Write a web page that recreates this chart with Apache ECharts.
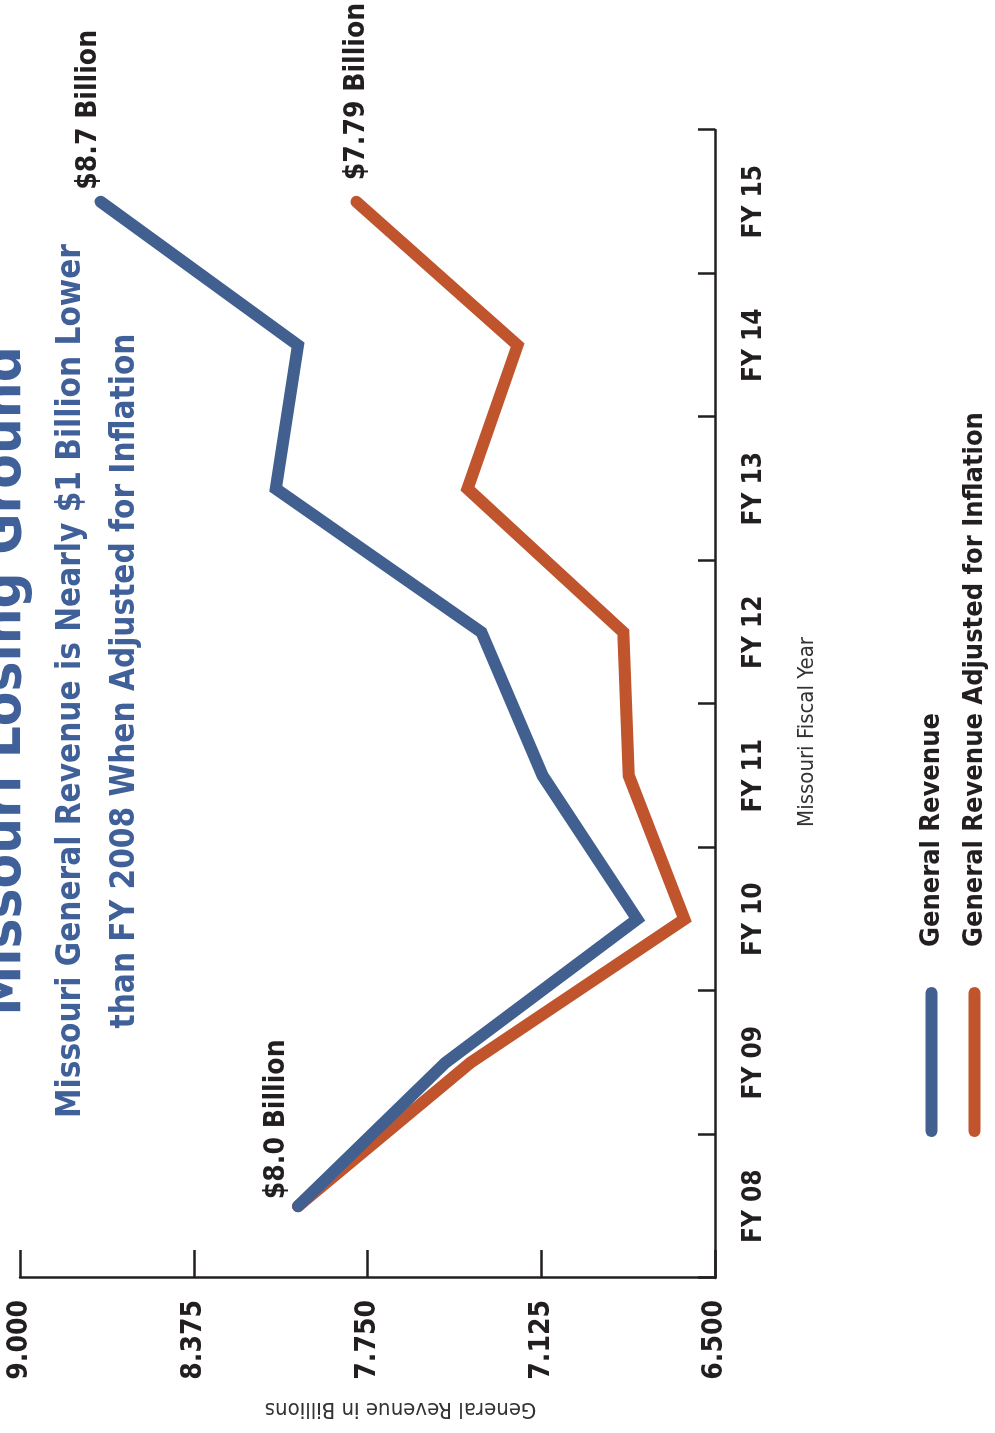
<!DOCTYPE html>
<html>
<head>
<meta charset="utf-8">
<script src="https://cdn.jsdelivr.net/npm/echarts@6/dist/echarts.min.js"></script>
<style>
  html, body { margin: 0; padding: 0; background: #ffffff; width: 995px; height: 1433px; overflow: hidden; }
  #chart { position: absolute; left: 0; top: 0; width: 1433px; height: 995px;
           transform-origin: 0 0; transform: translate(0px, 1433px) rotate(-90deg); }
</style>
</head>
<body>
<div id="chart"></div>
<script>
// ---- data ----
const categories = ['FY 08', 'FY 09', 'FY 10', 'FY 11', 'FY 12', 'FY 13', 'FY 14', 'FY 15'];
const generalRevenue = [8.00, 7.47, 6.78, 7.12, 7.34, 8.08, 8.00, 8.71];
const adjustedRevenue = [8.00, 7.38, 6.61, 6.81, 6.83, 7.39, 7.21, 7.79];
const valueTicks = [6.5, 7.125, 7.75, 8.375, 9.0];
const seriesNames = ['General Revenue', 'General Revenue Adjusted for Inflation'];
const titleText = 'Missouri Losing Ground';
const subtitleLines = ['Missouri General Revenue is Nearly $1 Billion Lower', 'than FY 2008 When Adjusted for Inflation'];
const yAxisName = 'General Revenue in Billions';
const xAxisName = 'Missouri Fiscal Year';
const generalStartLabel = '$8.0 Billion';
const generalEndLabel = '$8.7 Billion';
const adjustedEndLabel = '$7.79 Billion';

// ---- styling ----
const FONT = '"Liberation Sans Narrow", "DejaVu Sans Condensed", "Arial Narrow", sans-serif';
const BLUE = '#41608f';
const ORANGE = '#c0542c';
const TITLE_BLUE = '#3f6098';
const INK = '#231f20';

const labelStyle = { fontFamily: FONT, fontWeight: 'bold', fontSize: 28, color: INK };

const lastIdx = categories.length - 1;
const generalData = generalRevenue.map((v, i) => {
  if (i === 0) return { value: v, label: Object.assign({ show: true, formatter: generalStartLabel, position: 'top', align: 'left', distance: 0, offset: [7, -7] }, labelStyle) };
  if (i === lastIdx) return { value: v, label: Object.assign({ show: true, formatter: generalEndLabel, position: 'top', align: 'left', distance: 0, offset: [12, 3] }, labelStyle) };
  return v;
});
const adjustedData = adjustedRevenue.map((v, i) => {
  if (i === lastIdx) return { value: v, label: Object.assign({ show: true, formatter: adjustedEndLabel, position: 'right', distance: 21 }, labelStyle) };
  return v;
});

const capsule = 'path://M6,0 L144,0 A6,6 0 0 1 144,12 L6,12 A6,6 0 0 1 6,0 Z';

const chart = echarts.init(document.getElementById('chart'), null, { renderer: 'canvas' });
chart.setOption({
  backgroundColor: '#ffffff',
  animation: false,
  title: [
    {
      text: titleText, left: 752, textAlign: 'center', top: -23, padding: 0,
      textStyle: { fontFamily: FONT, fontWeight: 'bold', fontSize: 56, color: TITLE_BLUE }
    },
    {
      text: subtitleLines.join('\n'), left: 752, textAlign: 'center', top: 44, padding: 0,
      textStyle: { fontFamily: FONT, fontWeight: 'bold', fontSize: 33, lineHeight: 54, color: TITLE_BLUE }
    }
  ],
  legend: {
    orient: 'vertical', left: 296, top: 918, padding: 0, itemWidth: 150, itemHeight: 12, itemGap: 16,
    icon: capsule,
    data: seriesNames,
    textStyle: { fontFamily: FONT, fontWeight: 'bold', fontSize: 27, color: INK, padding: [0, 0, 0, 35] }
  },
  grid: { left: 155, right: 130, top: 20, bottom: 280, containLabel: false },
  xAxis: {
    type: 'category', data: categories, boundaryGap: true,
    name: xAxisName, nameLocation: 'middle', nameGap: 81,
    nameTextStyle: { fontFamily: FONT, fontSize: 22, color: '#333333', padding: [0, 56, 0, 0] },
    axisLine: { show: true, lineStyle: { color: INK, width: 2.5 } },
    axisTick: { show: true, inside: true, length: 17, lineStyle: { color: INK, width: 2.5 } },
    axisLabel: { interval: 0, margin: 26, fontFamily: FONT, fontWeight: 'bold', fontSize: 26, color: INK },
    splitLine: { show: false }
  },
  yAxis: {
    type: 'value', min: 6.5, max: 9,
    name: yAxisName, nameLocation: 'middle', nameGap: 120,
    nameTextStyle: { fontFamily: FONT, fontSize: 22, color: '#333333', padding: [0, 66, 0, 0] },
    axisLine: { show: true, lineStyle: { color: INK, width: 2.5 } },
    axisTick: { show: true, inside: true, length: 28, customValues: valueTicks, lineStyle: { color: INK, width: 2.5 } },
    axisLabel: { customValues: valueTicks, margin: 22, fontFamily: FONT, fontWeight: 'bold', fontSize: 28, color: INK,
                 formatter: v => Number(v).toFixed(3) },
    splitLine: { show: false }
  },
  series: [
    {
      name: seriesNames[0], type: 'line', data: generalData, z: 4,
      symbol: 'circle', symbolSize: 1, showSymbol: true,
      itemStyle: { color: BLUE },
      lineStyle: { color: BLUE, width: 12, cap: 'round', join: 'miter' },
      label: { show: false }
    },
    {
      name: seriesNames[1], type: 'line', data: adjustedData, z: 3,
      symbol: 'circle', symbolSize: 1, showSymbol: true,
      itemStyle: { color: ORANGE },
      lineStyle: { color: ORANGE, width: 12, cap: 'round', join: 'miter' },
      label: { show: false }
    }
  ]
});
</script>
</body>
</html>
